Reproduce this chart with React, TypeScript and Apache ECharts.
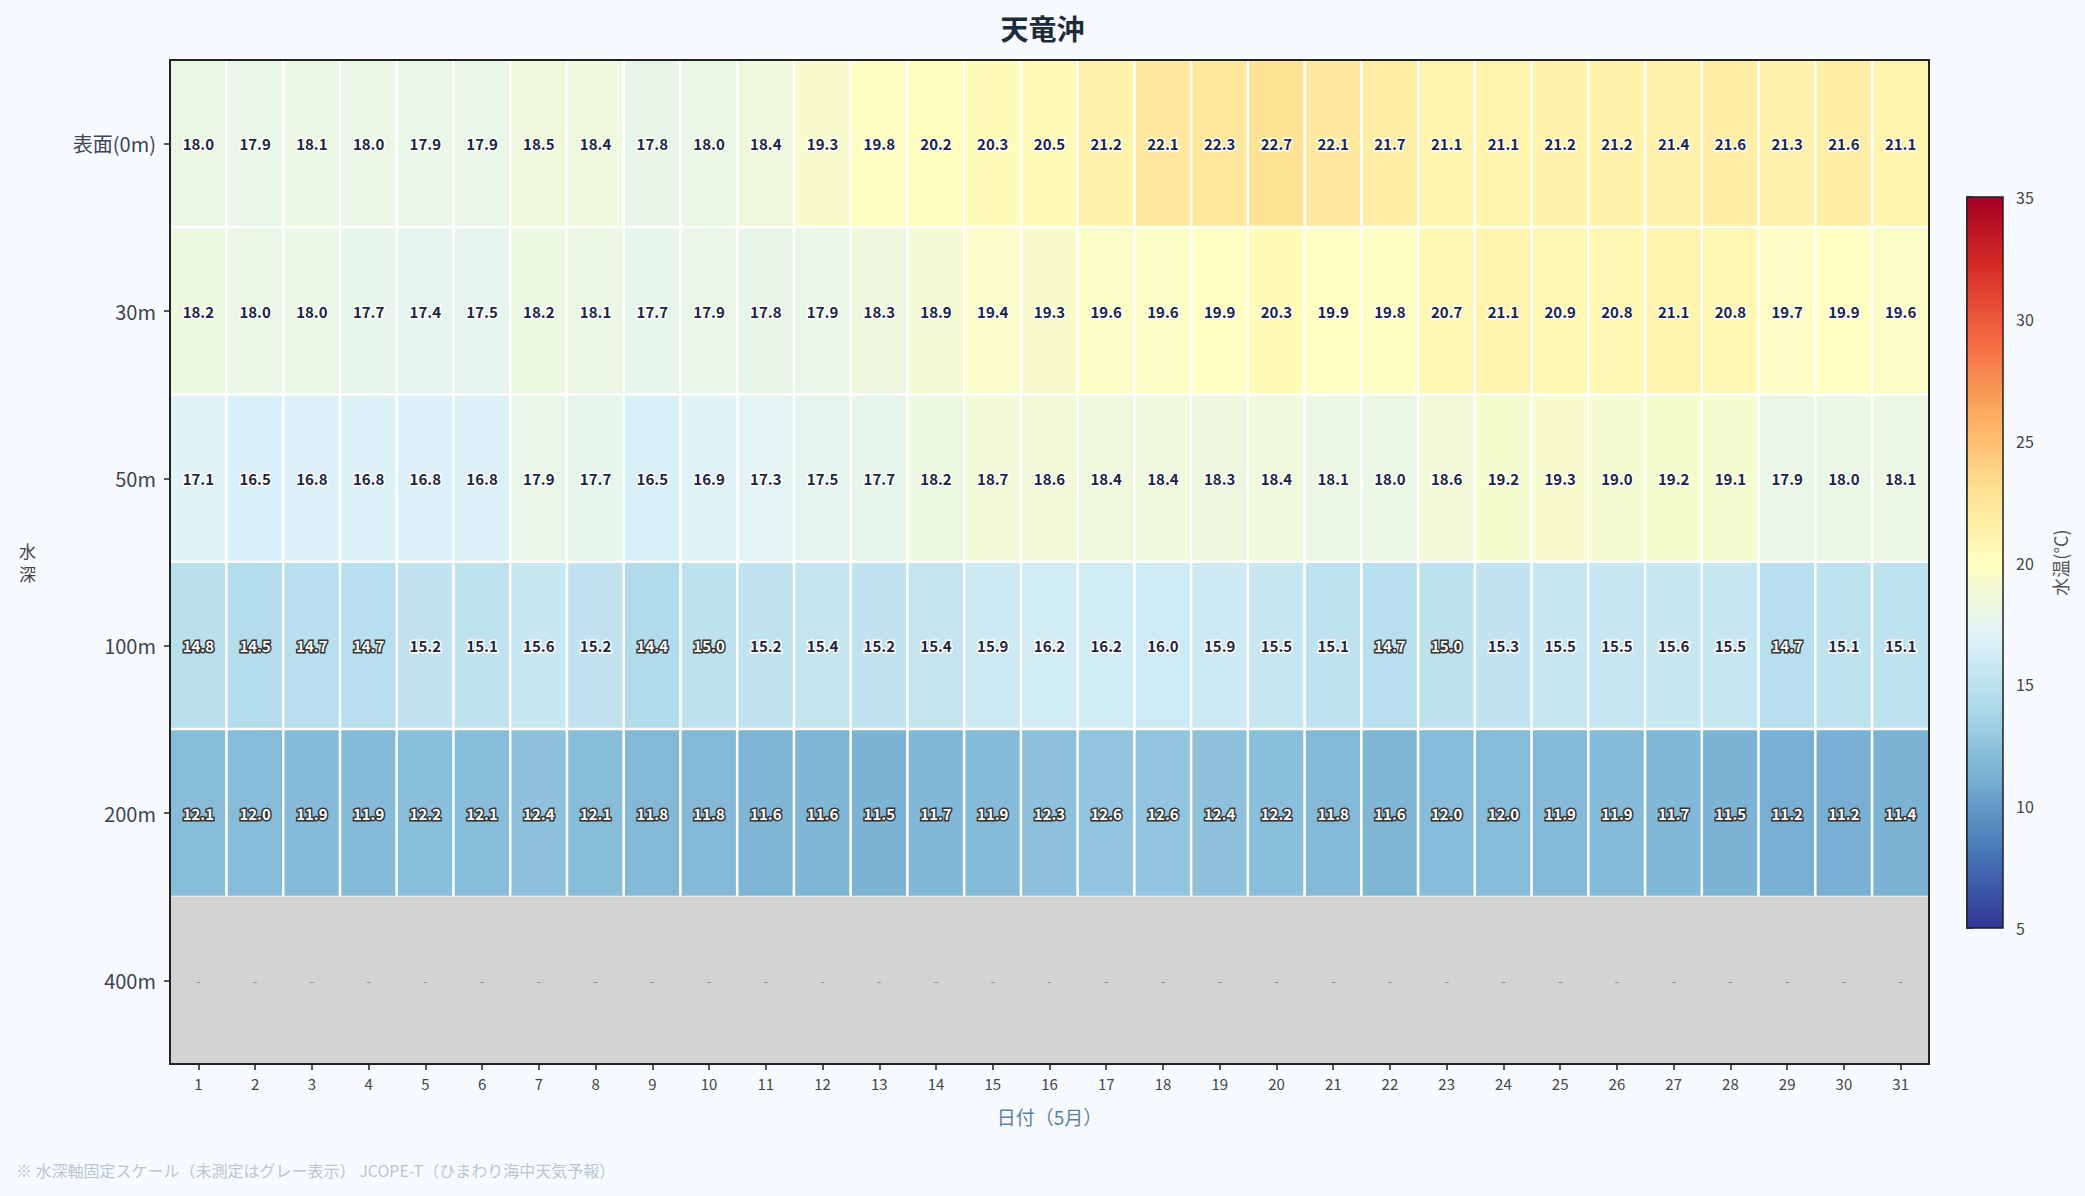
import React, { useEffect, useRef } from 'react';
import * as echarts from 'echarts';

const days = ['1','2','3','4','5','6','7','8','9','10','11','12','13','14','15','16','17','18','19','20','21','22','23','24','25','26','27','28','29','30','31'];
const depths = ['表面(0m)', '30m', '50m', '100m', '200m', '400m'];

const temp0m = [18.0,17.9,18.1,18.0,17.9,17.9,18.5,18.4,17.8,18.0,18.4,19.3,19.8,20.2,20.3,20.5,21.2,22.1,22.3,22.7,22.1,21.7,21.1,21.1,21.2,21.2,21.4,21.6,21.3,21.6,21.1];
const temp30m = [18.2,18.0,18.0,17.7,17.4,17.5,18.2,18.1,17.7,17.9,17.8,17.9,18.3,18.9,19.4,19.3,19.6,19.6,19.9,20.3,19.9,19.8,20.7,21.1,20.9,20.8,21.1,20.8,19.7,19.9,19.6];
const temp50m = [17.1,16.5,16.8,16.8,16.8,16.8,17.9,17.7,16.5,16.9,17.3,17.5,17.7,18.2,18.7,18.6,18.4,18.4,18.3,18.4,18.1,18.0,18.6,19.2,19.3,19.0,19.2,19.1,17.9,18.0,18.1];
const temp100m = [14.8,14.5,14.7,14.7,15.2,15.1,15.6,15.2,14.4,15.0,15.2,15.4,15.2,15.4,15.9,16.2,16.2,16.0,15.9,15.5,15.1,14.7,15.0,15.3,15.5,15.5,15.6,15.5,14.7,15.1,15.1];
const temp200m = [12.1,12.0,11.9,11.9,12.2,12.1,12.4,12.1,11.8,11.8,11.6,11.6,11.5,11.7,11.9,12.3,12.6,12.6,12.4,12.2,11.8,11.6,12.0,12.0,11.9,11.9,11.7,11.5,11.2,11.2,11.4];
const temp400m: (number | null)[] = [null,null,null,null,null,null,null,null,null,null,null,null,null,null,null,null,null,null,null,null,null,null,null,null,null,null,null,null,null,null,null];

const rows = [temp0m, temp30m, temp50m, temp100m, temp200m, temp400m];

const colorMin = 5;
const colorMax = 35;
const colorStep = 5;
const cmap = ['#313695','#4575b4','#74add1','#abd9e9','#e0f3f8','#ffffbf','#fee090','#fdae61','#f46d43','#d73027','#a50026'];

const FONT = '"Noto Sans CJK JP", "Noto Sans", sans-serif';

export default function App() {
  const ref = useRef<HTMLDivElement>(null);

  useEffect(() => {
    if (!ref.current) return;
    const chart = echarts.init(ref.current, null, { renderer: 'svg' });

    const measured: any[] = [];
    const missing: any[] = [];
    rows.forEach((row, yi) => {
      row.forEach((v, xi) => {
        if (v === null || v === undefined) {
          missing.push([xi, yi, 0]);
        } else {
          const cold = v <= 15.0;
          measured.push({
            value: [xi, yi, v],
            label: cold
              ? { color: '#ffffff', textBorderColor: '#333333', textBorderWidth: 3 }
              : { color: '#1c2541', textBorderColor: '#ffffff', textBorderWidth: 3 },
          });
        }
      });
    });

    const gridL = 170, gridT = 60, gridR = 1929, gridB = 1064;
    const cbL = 1967, cbT = 197, cbW = 36, cbH = 731;

    const stops = cmap.map((c, i) => ({ offset: 1 - i / (cmap.length - 1), color: c })).reverse();

    const option: any = {
      animation: false,
      backgroundColor: '#f7fbff',
      textStyle: { fontFamily: FONT },
      title: {
        text: '天竜沖',
        left: 'center',
        top: 9,
        textStyle: { fontSize: 28, fontWeight: 'bold', color: '#1e2b3c', fontFamily: FONT },
      },
      grid: [
        { left: gridL, top: gridT, width: gridR - gridL, height: gridB - gridT, show: false },
        { left: cbL, top: cbT, width: cbW, height: cbH, show: false },
      ],
      xAxis: [
        {
          type: 'category',
          data: days,
          gridIndex: 0,
          position: 'bottom',
          name: '日付（5月）',
          nameLocation: 'middle',
          nameGap: 43,
          nameTextStyle: { color: '#5b82a6', fontSize: 19, fontFamily: FONT },
          axisLine: { show: true, lineStyle: { color: '#222', width: 2 } },
          axisTick: { show: true, alignWithLabel: true, length: 6, lineStyle: { color: '#222', width: 1.5 } },
          axisLabel: { color: '#444', fontSize: 15, margin: 12, fontFamily: FONT },
          splitLine: { show: false },
          z: 10,
        },
        { type: 'value', gridIndex: 1, show: false, min: 0, max: 1 },
      ],
      yAxis: [
        {
          type: 'category',
          data: depths,
          gridIndex: 0,
          inverse: true,
          name: '水\n深',
          nameLocation: 'middle',
          nameRotate: 0,
          nameGap: 134,
          nameTextStyle: { color: '#444', fontSize: 17, lineHeight: 23, fontFamily: FONT },
          axisLine: { show: true, lineStyle: { color: '#222', width: 2 } },
          axisTick: { show: true, alignWithLabel: true, length: 6, lineStyle: { color: '#222', width: 1.5 } },
          axisLabel: { color: '#3d4451', fontSize: 20, margin: 14, fontFamily: FONT },
          splitLine: { show: false },
          z: 10,
        },
        {
          type: 'value',
          gridIndex: 1,
          position: 'right',
          min: colorMin,
          max: colorMax,
          interval: colorStep,
          name: '水温(°C)',
          nameLocation: 'middle',
          nameRotate: 90,
          nameGap: 48,
          nameTextStyle: { color: '#555', fontSize: 18, fontFamily: FONT },
          axisLine: { show: true, lineStyle: { color: '#222', width: 1.5 } },
          axisTick: { show: true, length: 6, lineStyle: { color: '#222', width: 1.5 } },
          axisLabel: { color: '#444', fontSize: 16, margin: 13, fontFamily: FONT },
          splitLine: { show: false },
        },
      ],
      visualMap: [
        {
          type: 'continuous',
          show: false,
          min: colorMin,
          max: colorMax,
          seriesIndex: 0,
          dimension: 2,
          inRange: { color: cmap },
        },
        {
          type: 'continuous',
          show: false,
          min: 0,
          max: 1,
          seriesIndex: 1,
          dimension: 2,
          inRange: { color: ['#d3d3d3', '#d3d3d3'] },
        },
      ],
      series: [
        {
          type: 'heatmap',
          xAxisIndex: 0,
          yAxisIndex: 0,
          data: measured,
          itemStyle: { borderColor: '#ffffff', borderWidth: 2.5 },
          label: {
            show: true,
            fontSize: 15,
            fontWeight: 'bold',
            fontFamily: FONT,
            formatter: (p: any) => Number(p.value[2]).toFixed(1),
          },
          emphasis: { disabled: true },
        },
        {
          type: 'heatmap',
          xAxisIndex: 0,
          yAxisIndex: 0,
          data: missing,
          itemStyle: { borderWidth: 0 },
          label: { show: true, formatter: '-', color: '#8a8a8a', fontSize: 13, fontFamily: FONT },
          emphasis: { disabled: true },
        },
      ],
      graphic: [
        {
          type: 'rect',
          z: 100,
          silent: true,
          shape: { x: gridL, y: gridT, width: gridR - gridL, height: gridB - gridT },
          style: { fill: 'none', stroke: '#222', lineWidth: 2 },
        },
        {
          type: 'rect',
          z: 50,
          silent: true,
          shape: { x: cbL, y: cbT, width: cbW, height: cbH },
          style: {
            fill: new echarts.graphic.LinearGradient(0, 0, 0, 1, stops),
            stroke: '#222',
            lineWidth: 1.5,
          },
        },
        {
          type: 'text',
          left: 16,
          top: 1162,
          silent: true,
          style: {
            text: '※ 水深軸固定スケール（未測定はグレー表示） JCOPE-T（ひまわり海中天気予報）',
            fill: '#b9c5d3',
            fontSize: 16,
            fontFamily: FONT,
          },
        },
      ],
    };

    chart.setOption(option);
    return () => chart.dispose();
  }, []);

  return (
    <div
      ref={ref}
      style={{ position: 'fixed', left: 0, top: 0, width: 2085, height: 1196, background: '#f7fbff' }}
    />
  );
}
